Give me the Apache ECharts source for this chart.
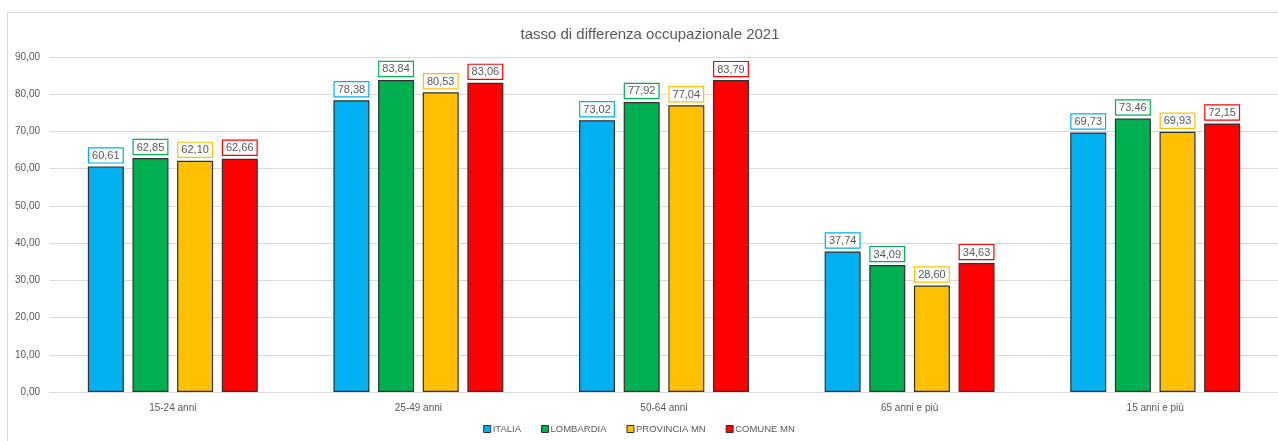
<!DOCTYPE html>
<html>
<head>
<meta charset="utf-8">
<script src="https://cdn.jsdelivr.net/npm/echarts@6/dist/echarts.min.js"></script>
<style>
  html, body { margin: 0; padding: 0; background: #fff; }
  #chart { width: 1278px; height: 441px; }
</style>
</head>
<body>
<div id="chart"></div>
<script>
var categories = ['15-24 anni', '25-49 anni', '50-64 anni', '65 anni e più', '15 anni e più'];
var seriesNames = ['ITALIA', 'LOMBARDIA', 'PROVINCIA MN', 'COMUNE MN'];
var italia = [60.61, 78.38, 73.02, 37.74, 69.73];
var lombardia = [62.85, 83.84, 77.92, 34.09, 73.46];
var provinciaMn = [62.10, 80.53, 77.04, 28.60, 69.93];
var comuneMn = [62.66, 83.06, 83.79, 34.63, 72.15];
var colors = ['#00B0F0', '#00B050', '#FFC000', '#FF0000'];

var fontFam = 'Liberation Sans';
var txtColor = '#595959';

// formato italiano con virgola
var fmt = function(v){
  return Number(v).toFixed(2).replace('.', ',');
};

var myChart = echarts.init(document.getElementById('chart'));

var makeSeries = function(name, data, color){
  return {
    name: name,
    type: 'bar',
    data: data,
    barWidth: 36,
    barGap: '24%',
    itemStyle: { color: color, borderColor: '#303030', borderWidth: 1.2 },
    label: {
      show: true,
      position: 'top',
      distance: 4,
      formatter: function(p){ return fmt(p.value); },
      color: txtColor,
      fontFamily: fontFam,
      fontSize: 11,
      backgroundColor: '#fff',
      borderColor: color,
      borderWidth: 1.2,
      padding: [2, 3, 1, 3]
    }
  };
};

var option = {
  animation: false,
  textStyle: { fontFamily: fontFam },
  graphic: [{
    type: 'rect',
    shape: { x: 7.5, y: 12.5, width: 1400, height: 600 },
    style: { fill: 'none', stroke: '#d9d9d9', lineWidth: 1 },
    silent: true
  }],
  title: {
    text: 'tasso di differenza occupazionale 2021',
    left: 645,
    textAlign: 'center',
    top: 22,
    textStyle: { color: txtColor, fontSize: 15, fontWeight: 'normal', fontFamily: fontFam }
  },
  legend: {
    data: seriesNames,
    bottom: 2,
    left: 'center',
    itemWidth: 7,
    itemHeight: 7,
    itemGap: 20,
    icon: 'rect',
    itemStyle: { borderColor: '#303030', borderWidth: 1 },
    textStyle: { color: txtColor, fontSize: 9.5, fontFamily: fontFam, padding: [0, 0, 0, -3] }
  },
  grid: { left: 50, right: 0, top: 57, bottom: 49, containLabel: false },
  xAxis: {
    type: 'category',
    data: categories,
    axisLine: { lineStyle: { color: '#d9d9d9' } },
    axisTick: { show: false },
    axisLabel: { color: txtColor, fontSize: 10, margin: 11, fontFamily: fontFam }
  },
  yAxis: {
    type: 'value',
    min: 0,
    max: 90,
    interval: 10,
    axisLine: { show: false },
    axisTick: { show: false },
    splitLine: { lineStyle: { color: '#d9d9d9' } },
    axisLabel: { color: txtColor, fontSize: 10, margin: 10, fontFamily: fontFam, formatter: fmt }
  },
  series: [
    makeSeries(seriesNames[0], italia, colors[0]),
    makeSeries(seriesNames[1], lombardia, colors[1]),
    makeSeries(seriesNames[2], provinciaMn, colors[2]),
    makeSeries(seriesNames[3], comuneMn, colors[3])
  ]
};

myChart.setOption(option);
</script>
</body>
</html>
